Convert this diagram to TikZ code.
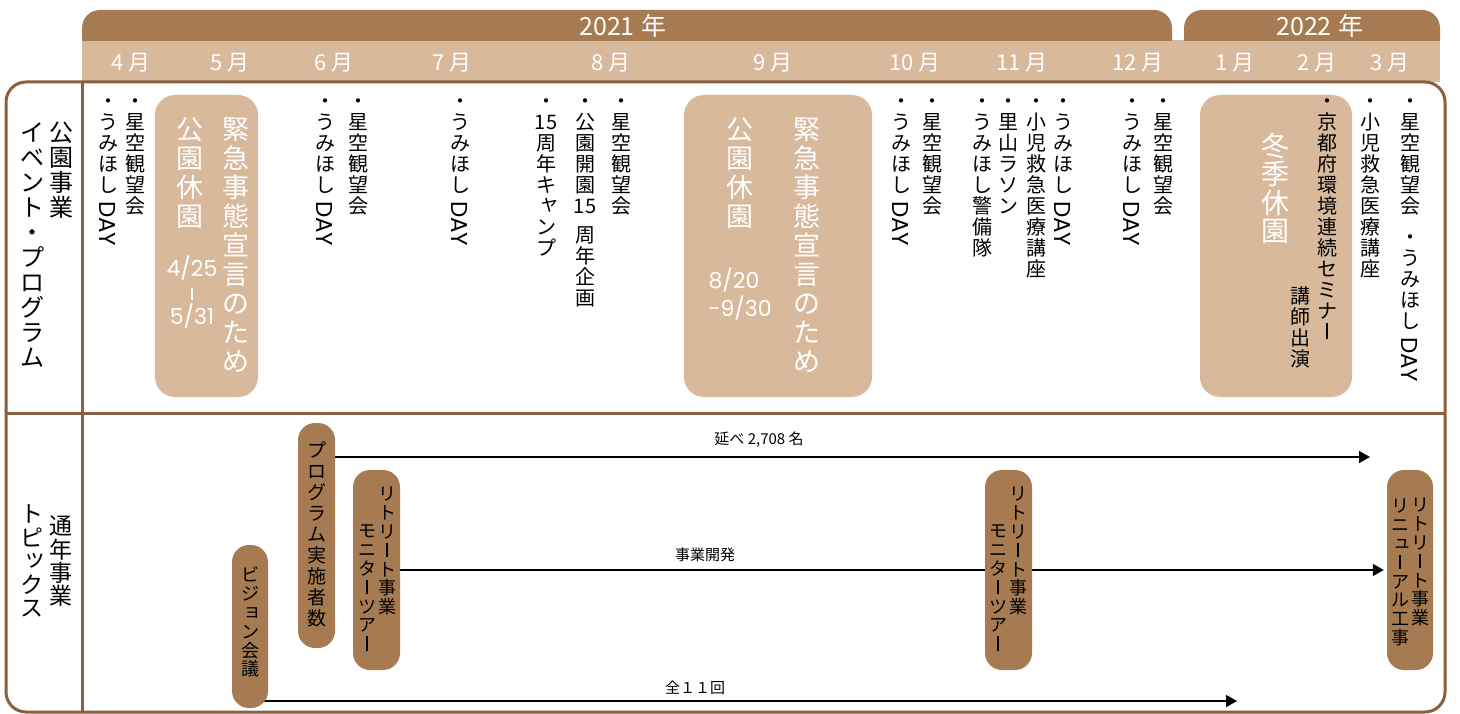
\documentclass[tikz,border=0pt]{standalone}
\usepackage{graphicx}
\usepackage{fontspec}
\setmainfont{Noto Sans CJK JP}
\newfontfamily\pop{Poppins}
\usetikzlibrary{arrows.meta}
\pgfdeclarelayer{bg}
\pgfsetlayers{bg,main}
\definecolor{dk}{RGB}{166,123,82}
\definecolor{lt}{RGB}{217,185,155}
\definecolor{fr}{RGB}{140,96,62}
\makeatletter
\newcommand\vstack[2][1.05]{\vbox{\offinterlineskip\def\vs@p{#1}\vs@#2\relax}}
\def\vs@#1{\ifx\relax#1\else\vsitem{#1}\expandafter\vs@\fi}
\newcommand\vsitem[1]{%
  \setbox0=\hbox{#1}%
  \ifdim\wd0=\z@
    \box0
  \else
    \dimen0=\ht0 \advance\dimen0\dp0
    \ifdim\dimen0>1.2em
      \hbox to 1em{\hss\vbox{\kern0.3em\box0\kern0.15em}\hss}%
    \else
      \ht0=0.88em \dp0=0.12em
      \hbox to 1em{\hss\vbox to \vs@p em{\vss\box0\vss}\hss}%
    \fi
  \fi}
\makeatother
\newcommand\VL[1]{\rotatebox{-90}{\pop\fontsize{23}{23}\selectfont #1}}
\newcommand\VB{\rule{0.07em}{0.8em}}
\newcommand\SK[1]{\kern0.15em\raisebox{0.12em}{#1}\kern-0.15em}
\newcommand\GAP[1]{\rule{0pt}{#1}}
\begin{document}
\begin{tikzpicture}[x=1pt,y=-1pt,
  hdr/.style={text=white, inner sep=0pt, font=\fontsize{22}{22}\selectfont},
  yr/.style={text=white, inner sep=0pt, font=\fontsize{25}{25}\selectfont},
  col/.style={anchor=north, inner sep=0pt, font=\fontsize{20}{20}\selectfont},
  lbl/.style={anchor=north, inner sep=0pt, font=\fontsize{24}{24}\selectfont},
  big/.style={anchor=north, inner sep=0pt, text=white, font=\fontsize{27}{27}\selectfont},
  date/.style={inner sep=0pt, text=white, font=\pop\fontsize{22}{22}\selectfont},
  tanbox/.style={fill=lt, rounded corners=20pt, inner sep=0pt, draw=none},
  pill/.style={fill=dk, rounded corners=17pt, inner sep=0pt, draw=none},
  ptxt/.style={anchor=north, inner sep=0pt, font=\fontsize{18}{18}\selectfont},
  lab/.style={inner sep=0pt, font=\fontsize{15}{15}\selectfont},
  arr/.style={line width=1.5pt, -{Triangle[length=11pt,width=12pt]}},
  frm/.style={draw=fr, line width=3pt}
]
\useasboundingbox (0,0) rectangle (1460,714);
% header bands
\fill[lt] (82,40) rectangle (1440,82);
\fill[dk] (82,41) -- (82,28) arc[start angle=180,end angle=270,radius=18] -- (1154,10) arc[start angle=270,end angle=360,radius=18] -- (1172,41) -- cycle;
\fill[dk] (1184,41) -- (1184,28) arc[start angle=180,end angle=270,radius=18] -- (1422,10) arc[start angle=270,end angle=360,radius=18] -- (1440,41) -- cycle;
\node[yr] (y21) at (623,26) {2021\hspace{7pt}年};
\node[yr] (y22) at (1320,26) {2022\hspace{7pt}年};
\node[hdr] (m4) at (131,63) {4\hspace{5pt}月};
\node[hdr] (m5) at (230,63) {5\hspace{5pt}月};
\node[hdr] (m6) at (334,63) {6\hspace{5pt}月};
\node[hdr] (m7) at (452,63) {7\hspace{5pt}月};
\node[hdr] (m8) at (611,63) {8\hspace{5pt}月};
\node[hdr] (m9) at (773,63) {9\hspace{5pt}月};
\node[hdr] (m10) at (915,63) {10\hspace{5pt}月};
\node[hdr] (m11) at (1022,63) {11\hspace{5pt}月};
\node[hdr] (m12) at (1138,63) {12\hspace{5pt}月};
\node[hdr] (m1) at (1235,63) {1\hspace{5pt}月};
\node[hdr] (m2) at (1317,63) {2\hspace{5pt}月};
\node[hdr] (m3) at (1390,63) {3\hspace{5pt}月};
% frame
\draw[frm, rounded corners=20pt] (6,82) rectangle (1445,712);
\draw[frm] (82,82) -- (82,712);
\draw[frm] (6,413) -- (1445,413);
% left labels
\node[lbl] (la1) at (61,120) {\vstack[1.04]{公園事業}};
\node[lbl] (la2) at (32,120) {\vstack[1.04]{イベント・プログラム}};
\node[lbl, anchor=center, font=\fontsize{23}{23}\selectfont] (lb1) at (61,561) {\vstack[1.02]{通年事業}};
\node[lbl, anchor=center, font=\fontsize{23}{23}\selectfont] (lb2) at (32,561) {\vstack[1.02]{トピ{\SK{ッ}}クス}};
% tan boxes
\node[tanbox, minimum width=103pt, minimum height=302pt] (b1) at (206.5,246) {};
\node[tanbox, minimum width=188pt, minimum height=302pt] (b2) at (778,246) {};
\node[tanbox, minimum width=152pt, minimum height=302pt] (b3) at (1276,246) {};
\node[big] (b1a) at (236,115) {\vstack[1.07]{緊急事態宣言のため}};
\node[big] (b1b) at (190,115) {\vstack[1.07]{公園休園}};
\node[date] (d1a) at (192,268) {4/25};
\node[inner sep=0pt, text=white] (d1b) at (192,294) {\rule{1.8pt}{13pt}};
\node[date] (d1c) at (192,316) {5/31};
\node[big] (b2a) at (807,115) {\vstack[1.07]{緊急事態宣言のため}};
\node[big] (b2b) at (740,115) {\vstack[1.07]{公園休園}};
\node[date] (d2a) at (734,280) {8/20};
\node[date] (d2b) at (740,308) {-9/30};
\node[big, font=\fontsize{28}{28}\selectfont] (b3a) at (1275,131) {\vstack[1.02]{冬季休園}};
% event columns
\node[col] (c1) at (108,90) {\vstack{・うみほし{\VL{DAY}}}};
\node[col] (c2) at (135,90) {\vstack{・星空観望会}};
\node[col] (c4) at (325,90) {\vstack{・うみほし{\VL{DAY}}}};
\node[col] (c5) at (358,90) {\vstack{・星空観望会}};
\node[col] (c6) at (460,90) {\vstack{・うみほし{\VL{DAY}}}};
\node[col] (c7) at (546,90) {\vstack{・{15}周年キ{\SK{ャ}}ンプ}};
\node[col] (c8) at (585,90) {\vstack{・公園開園{15}{\GAP{8pt}}周年企画}};
\node[col] (c9) at (621,90) {\vstack{・星空観望会}};
\node[col] (c11) at (901,90) {\vstack{・うみほし{\VL{DAY}}}};
\node[col] (c12) at (932,90) {\vstack{・星空観望会}};
\node[col] (c13) at (982,90) {\vstack{・うみほし警備隊}};
\node[col] (c14) at (1008,90) {\vstack{・里山ラソン}};
\node[col] (c15) at (1036,90) {\vstack{・小児救急医療講座}};
\node[col] (c16) at (1063,90) {\vstack{・うみほし{\VL{DAY}}}};
\node[col] (c17) at (1132,90) {\vstack{・うみほし{\VL{DAY}}}};
\node[col] (c18) at (1163,90) {\vstack{・星空観望会}};
\node[col] (c19) at (1327,90) {\vstack{・京都府環境連続セミナ{\VB}}};
\node[col] (c19b) at (1300,285) {\vstack{講師出演}};
\node[col] (c20) at (1370,90) {\vstack{・小児救急医療講座}};
\node[col] (c21) at (1410,90) {\vstack{・星空観望会{\GAP{10pt}}・うみほし{\VL{DAY}}}};
% topic pills
\node[pill, minimum width=37pt, minimum height=225pt] (p1) at (316.5,535.5) {};
\node[pill, minimum width=36pt, minimum height=163pt] (pv) at (250,626.5) {};
\node[pill, minimum width=47pt, minimum height=200pt] (pm1) at (376.5,570) {};
\node[pill, minimum width=47pt, minimum height=200pt] (pm2) at (1008.5,570) {};
\node[pill, minimum width=46pt, minimum height=200pt] (pr) at (1410,570) {};
\node[ptxt, font=\fontsize{19}{19}\selectfont] (p1t) at (316.5,440) {\vstack[1.1]{プログラム実施者数}};
\node[ptxt] (pvt) at (250,565) {\vstack[1.05]{ビジ{\SK{ョ}}ン会議}};
\node[ptxt] (pm1a) at (387,484) {\vstack[1.05]{リトリ{\VB}ト事業}};
\node[ptxt] (pm1b) at (367,521) {\vstack[1.05]{モニタ{\VB}ツア{\VB}}};
\node[ptxt] (pm2a) at (1018,484) {\vstack[1.05]{リトリ{\VB}ト事業}};
\node[ptxt] (pm2b) at (998,521) {\vstack[1.05]{モニタ{\VB}ツア{\VB}}};
\node[ptxt] (pra) at (1420,495) {\vstack[1.05]{リトリ{\VB}ト事業}};
\node[ptxt] (prb) at (1400,496) {\vstack[1.05]{リニ{\SK{ュ}}{\VB}アル工事}};
% connectors
\coordinate (t1) at (1370,457);
\coordinate (t3) at (1237,701);
\begin{pgfonlayer}{bg}
\draw[arr] (p1.center |- t1) -- (t1);
\draw[arr, shorten >=3pt] (pm1.center) -- (pr.west);
\draw[arr] (pv.center |- t3) -- (t3);
\end{pgfonlayer}
\node[lab] (l1) at (759,440) {延べ 2,708 名};
\node[lab] (l2) at (705,555) {事業開発};
\node[lab] (l3) at (695,688) {全１１回};
\end{tikzpicture}
\end{document}
